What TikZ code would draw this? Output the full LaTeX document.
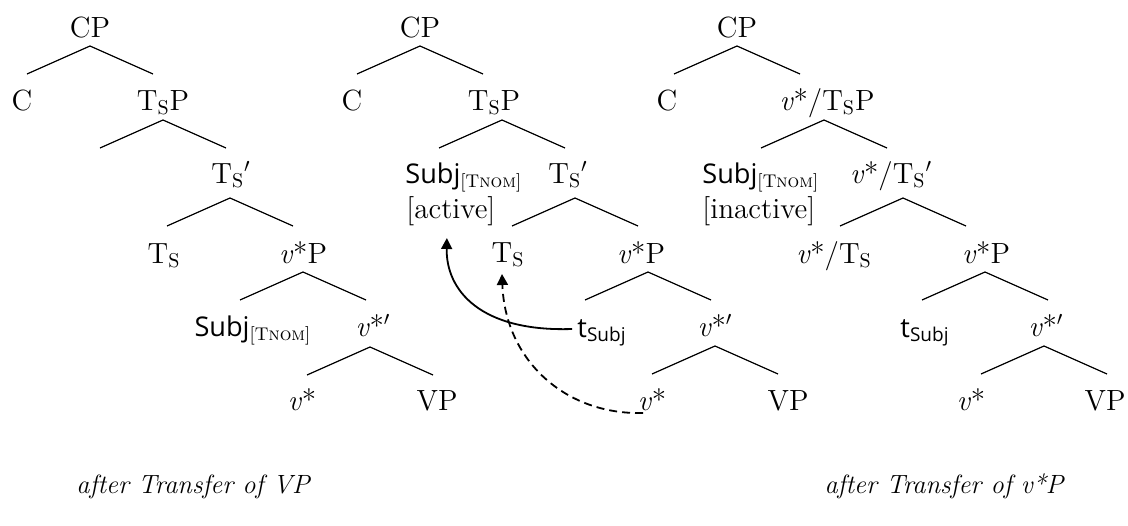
\documentclass[tikz,border=0pt]{standalone}
\usepackage{fontspec}
\newfontfamily\subjfont{Open Sans}[Scale=0.93]
\usetikzlibrary{calc,arrows.meta}
\newcommand\ssub[1]{\textsubscript{\fontsize{10}{10}\selectfont #1}}
\newcommand\Tsub{T\ssub{S}}
\newcommand\vst{\textit{v}*}
\newcommand\Subjn{{\subjfont Subj}\textsubscript{\fontsize{9.2}{9.2}\selectfont[T\textsc{nom}]}}
\newcommand\tSubj{{\subjfont t\textsubscript{Subj}}}
\newcommand\brV[3]{\draw[branch] ($(#1.base)+(#2,#3)$) +(-63,28) -- +(0,0) -- +(63,28);}
\tikzset{
  lbl/.style={anchor=base,inner sep=0pt,font=\fontsize{14.6}{17.5}\selectfont},
  lblw/.style={lbl,anchor=base west},
  captxt/.style={lbl,font=\fontsize{13.2}{16}\selectfont\itshape},
  branch/.style={line width=0.6pt},
  mv/.style={line width=0.9pt,-{Triangle[length=5.5pt,width=5.5pt]}},
  mvd/.style={mv,dash pattern=on 4pt off 2.5pt}
}
\begin{document}
\begin{tikzpicture}[x=0.5pt,y=-0.5pt]
\useasboundingbox (0,0) rectangle (1128,525);
% ---------- tree 1
\node[lbl] (CP1) at (90,37) {CP};
\node[lbl] (C1) at (22,110) {C};
\node[lbl] (TSP1) at (163,110) {\Tsub P};
\node[lbl] (TSb1) at (231,183) {\Tsub$'$};
\node[lbl] (TS1) at (164,263) {\Tsub};
\node[lbl] (vP1) at (303,263) {\vst P};
\node[lbl] (Subj1) at (253,336) {\Subjn};
\node[lbl] (vb1) at (373,336) {\vst$'$};
\node[lbl] (v1) at (302,410) {\vst};
\node[lbl] (VP1) at (437,410) {VP};
\brV{CP1}{0}{9}
\brV{TSP1}{0}{10}
\brV{TSb1}{-1}{15}
\brV{vP1}{0}{9}
\brV{vb1}{-3}{11}
% ---------- tree 2
\node[lbl] (CP2) at (420,37) {CP};
\node[lbl] (C2) at (352,110) {C};
\node[lbl] (TSP2) at (494,110) {\Tsub P};
\node[lblw] (Subj2) at (405,183) {\Subjn};
\node[lblw] (act2) at (406,218) {[active]};
\node[lbl] (TSb2) at (568,183) {\Tsub$'$};
\node[lbl] (TS2) at (508,262) {\Tsub};
\node[lbl] (vP2) at (641,263) {\vst P};
\node[lbl] (tSubj2) at (602,337) {\tSubj};
\node[lbl] (vb2) at (715,336) {\vst$'$};
\node[lbl] (v2) at (652,410) {\vst};
\node[lbl] (VP2) at (788,410) {VP};
\brV{CP2}{0}{9}
\brV{TSP2}{8}{10}
\brV{TSb2}{7}{15}
\brV{vP2}{7}{9}
\brV{vb2}{0}{10}
% movement arrows
\draw[mv] ($(tSubj2.base west)+(-5,-8)$) .. controls +(-92,3) and +(-1,52) .. ($(act2.base)+(-4,20)$);
\draw[mvd] ($(v2.base)+(-9,3)$) .. controls +(-78,2) and +(3,86) .. ($(TS2.base)+(-6,12)$);
% ---------- tree 3
\node[lbl] (CP3) at (737,37) {CP};
\node[lbl] (C3) at (667,110) {C};
\node[lbl] (vTSP3) at (827,110) {\vst/\Tsub P};
\node[lblw] (Subj3) at (702,183) {\Subjn};
\node[lblw] (inact3) at (702,218) {[inactive]};
\node[lbl] (vTSb3) at (891,183) {\vst/\Tsub$'$};
\node[lbl] (vTS3) at (834,263) {\vst/\Tsub};
\node[lbl] (vP3) at (986,263) {\vst P};
\node[lbl] (tSubj3) at (925,337) {\tSubj};
\node[lbl] (vb3) at (1046,336) {\vst$'$};
\node[lbl] (v3) at (971,410) {\vst};
\node[lbl] (VP3) at (1105,410) {VP};
\brV{CP3}{0}{9}
\brV{vTSP3}{-3}{10}
\brV{vTSb3}{12}{15}
\brV{vP3}{-1}{9}
\brV{vb3}{-2}{10}
% ---------- captions
\node[captxt] (cap1) at (193,493) {after Transfer of VP};
\node[captxt] (cap2) at (944,493) {after Transfer of v*P};
\end{tikzpicture}
\end{document}
